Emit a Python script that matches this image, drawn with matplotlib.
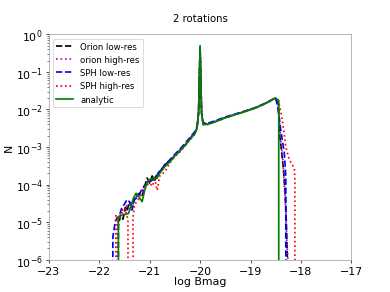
import numpy as np
import matplotlib
matplotlib.use("Agg")
from matplotlib import pyplot as plt

# shared body of the distribution (log Bmag, N)
body_x = [-20.8, -20.7, -20.6, -20.5, -20.4, -20.3, -20.2, -20.1, -20.06, -20.03,
          -20.0, -19.97, -19.94, -19.85, -19.7, -19.5, -19.3, -19.1, -18.9, -18.75,
          -18.62, -18.55, -18.5]
analytic_body = [2.0e-4, 3.0e-4, 4.0e-4, 5.8e-4, 7.8e-4, 1.15e-3, 1.6e-3, 2.3e-3, 3.2e-3, 8e-3,
                 0.5, 8e-3, 4.0e-3, 4.0e-3, 4.7e-3, 6.0e-3, 7.3e-3, 8.9e-3, 1.1e-2, 1.35e-2,
                 1.65e-2, 1.9e-2, 2.0e-2]
orion_lo_body = [2.2e-4, 3.4e-4, 4.2e-4, 6.0e-4, 8.2e-4, 1.1e-3, 1.7e-3, 2.4e-3, 3.3e-3, 8e-3,
                 0.45, 8e-3, 4.1e-3, 4.1e-3, 4.8e-3, 6.1e-3, 7.4e-3, 9.0e-3, 1.1e-2, 1.36e-2,
                 1.66e-2, 1.9e-2, 2.0e-2]
orion_hi_body = [2.1e-4, 3.2e-4, 4.1e-4, 5.9e-4, 8.0e-4, 1.15e-3, 1.65e-3, 2.35e-3, 3.2e-3, 8e-3,
                 0.45, 8e-3, 4.0e-3, 4.1e-3, 4.8e-3, 6.1e-3, 7.4e-3, 9.0e-3, 1.12e-2, 1.37e-2,
                 1.67e-2, 1.9e-2, 2.0e-2]
sph_lo_body = [2.3e-4, 3.3e-4, 4.6e-4, 6.4e-4, 8.8e-4, 1.25e-3, 1.8e-3, 2.6e-3, 3.6e-3, 8e-3,
               0.45, 8e-3, 4.4e-3, 4.3e-3, 5.0e-3, 6.3e-3, 7.6e-3, 9.2e-3, 1.13e-2, 1.38e-2,
               1.68e-2, 1.9e-2, 1.95e-2]
sph_hi_body = [1.7e-4, 2.2e-4, 3.8e-4, 5.6e-4, 7.4e-4, 1.05e-3, 1.55e-3, 2.2e-3, 3.1e-3, 8e-3,
               0.45, 8e-3, 4.0e-3, 4.0e-3, 4.7e-3, 6.0e-3, 7.3e-3, 8.9e-3, 1.1e-2, 1.35e-2,
               1.65e-2, 1.95e-2, 2.0e-2]

# low-field tails
analytic_lx = [-21.63, -21.62, -21.52, -21.42, -21.32, -21.27, -21.2, -21.15, -21.08, -21.02,
               -20.92, -20.86]
analytic_ly = [0, 1.4e-5, 1.6e-5, 1.7e-5, 4.4e-5, 5.9e-5, 4.5e-5, 3.5e-5, 9e-5, 1.35e-4,
               1.5e-4, 1.45e-4]
orion_lo_lx = [-21.64, -21.62, -21.58, -21.53, -21.48, -21.45, -21.4, -21.35, -21.3, -21.25,
               -21.2, -21.15, -21.1, -21.05, -21.0, -20.95, -20.9, -20.85]
orion_lo_ly = [0, 8e-6, 1.5e-5, 1.2e-5, 2.5e-5, 2e-5, 3.5e-5, 2.5e-5, 4.5e-5, 5e-5,
               6e-5, 5e-5, 9e-5, 1.5e-4, 1.1e-4, 1.7e-4, 1.3e-4, 2e-4]
orion_hi_lx = [-21.66, -21.64, -21.6, -21.55, -21.5, -21.45, -21.4, -21.35, -21.3, -21.25,
               -21.2, -21.15, -21.1, -21.05, -21.0, -20.95, -20.9, -20.85]
orion_hi_ly = [0, 1.0e-5, 1.3e-5, 1.8e-5, 1.5e-5, 2.8e-5, 2.2e-5, 3.0e-5, 4.0e-5, 6e-5,
               5.5e-5, 7e-5, 1.0e-4, 1.2e-4, 1.3e-4, 1.4e-4, 1.6e-4, 1.8e-4]
sph_lo_lx = [-21.76, -21.73, -21.68, -21.6, -21.55, -21.5, -21.45, -21.4, -21.35, -21.3,
             -21.25, -21.2, -21.15, -21.1, -21.05, -21.0, -20.95, -20.9, -20.85]
sph_lo_ly = [0, 4e-6, 1.1e-5, 1.5e-5, 2.5e-5, 3e-5, 4e-5, 3.5e-5, 2.1e-5, 4e-5,
             4.5e-5, 5.5e-5, 8e-5, 9e-5, 1.0e-4, 1.2e-4, 1.3e-4, 1.5e-4, 1.8e-4]
sph_hi_lx = [-21.69, -21.67, -21.63, -21.6, -21.55, -21.5, -21.43, -21.41, -21.35, -21.33,
             -21.3, -21.25, -21.2, -21.15, -21.1, -21.05, -21.0, -20.95, -20.9, -20.85]
sph_hi_ly = [0, 1.6e-5, 1.0e-5, 1.5e-5, 2e-5, 2.5e-5, 1.2e-5, 0, 0, 1.3e-5,
             3e-5, 3.5e-5, 4.5e-5, 6e-5, 7e-5, 1.0e-4, 1.1e-4, 9e-5, 1.4e-4, 7e-5]

# high-field cut-off
analytic_rx = [-18.44, -18.43]
analytic_ry = [1.7e-2, 0]
orion_lo_rx = [-18.45, -18.42, -18.38, -18.34, -18.31, -18.29, -18.27, -18.26]
orion_lo_ry = [1.5e-2, 2e-3, 7e-4, 2e-4, 5e-5, 1e-5, 1.2e-6, 0]
orion_hi_rx = [-18.45, -18.4, -18.36, -18.33, -18.3, -18.28, -18.26, -18.25]
orion_hi_ry = [1.5e-2, 1.5e-3, 5e-4, 1e-4, 2e-5, 3e-6, 1.1e-6, 0]
sph_lo_rx = [-18.46, -18.4, -18.33, -18.3, -18.29]
sph_lo_ry = [1.2e-2, 2.8e-3, 7e-4, 1.65e-4, 0]
sph_hi_rx = [-18.45, -18.4, -18.36, -18.3, -18.23, -18.13, -18.12, -18.11]
sph_hi_ry = [1.8e-2, 8.7e-3, 4.3e-3, 1e-3, 4.6e-4, 2.7e-4, 1.6e-4, 0]


def main():
    fig, ax = plt.subplots(figsize=(6.4, 4.8), dpi=61)

    series = [
        (orion_lo_lx, orion_lo_ly, orion_lo_body, orion_lo_rx, orion_lo_ry, "k--", "Orion low-res"),
        (orion_hi_lx, orion_hi_ly, orion_hi_body, orion_hi_rx, orion_hi_ry, "m:", "orion high-res"),
        (sph_lo_lx, sph_lo_ly, sph_lo_body, sph_lo_rx, sph_lo_ry, "b--", "SPH low-res"),
        (sph_hi_lx, sph_hi_ly, sph_hi_body, sph_hi_rx, sph_hi_ry, "r:", "SPH high-res"),
        (analytic_lx, analytic_ly, analytic_body, analytic_rx, analytic_ry, "g-", "analytic"),
    ]
    for lx, ly, body, rx, ry, fmt, label in series:
        x = np.concatenate([lx, body_x, rx])
        y = np.concatenate([ly, body, ry])
        ax.plot(x, y, fmt, lw=2, label=label)

    ax.set_yscale("log")
    ax.set_xlim(-23, -17)
    ax.set_ylim(1e-6, 1)
    ax.set_title("2 rotations", fontsize=12, pad=15)
    ax.set_xlabel("log Bmag", fontsize=13, labelpad=1)
    ax.set_ylabel("N", fontsize=13, labelpad=2)
    ax.tick_params(labelsize=13)
    for s in ax.spines.values():
        s.set_color("0.6")
    ax.legend(loc="upper left", fontsize=10)

    fig.savefig("out.png", dpi=61)


if __name__ == '__main__':
    main()
